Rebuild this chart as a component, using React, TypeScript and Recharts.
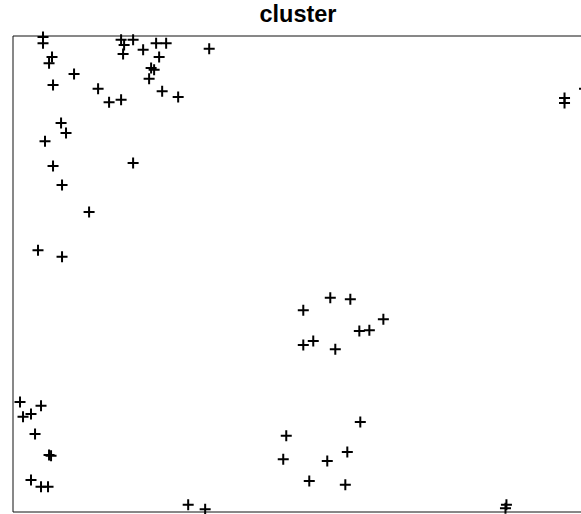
import { ScatterChart, Scatter, XAxis, YAxis, ReferenceArea } from 'recharts';

// cluster coordinates (x 0-105, y 0-100)
const xs = [
  5.27, 5.27, 6.85, 6.33, 10.72, 7.03, 14.94, 16.87, 18.98, 8.44,
  9.31, 5.62, 7.03, 21.09, 8.61, 13.36, 4.39, 8.61, 18.98, 19.51,
  21.09, 19.33, 22.85, 25.13, 26.89, 25.66, 24.25, 24.78, 23.9, 26.19,
  29.0, 34.45, 96.84, 96.84, 100.35, 55.71, 59.23, 50.97, 65.03, 60.81,
  62.57, 50.97, 52.72, 56.59, 60.98, 47.98, 58.7, 55.18, 47.45, 52.02,
  58.35, 86.64, 86.47, 1.23, 1.76, 3.16, 4.92, 3.87, 6.33, 6.68,
  3.16, 4.92, 6.15, 30.76, 33.74,
];
const ys = [
  99.8, 98.5, 95.6, 94.3, 92.0, 89.7, 88.9, 86.1, 86.6, 81.7,
  79.6, 77.9, 72.7, 73.3, 68.7, 63.0, 55.0, 53.6, 99.2, 98.1,
  99.2, 96.2, 97.1, 98.5, 98.5, 95.6, 93.3, 92.9, 91.0, 88.4,
  87.2, 97.3, 87.0, 85.9, 88.9, 45.0, 44.7, 42.4, 40.5, 38.0,
  38.2, 35.1, 35.9, 34.2, 18.9, 16.0, 12.6, 10.7, 11.1, 6.5,
  5.7, 1.5, 0.8, 23.1, 20.0, 20.6, 22.3, 16.4, 12.0, 11.8,
  6.7, 5.3, 5.3, 1.5, 0.6,
];

const points = xs.map((x, i) => ({ x, y: ys[i] }));

const Cross = (props: any) => {
  const { cx, cy } = props;
  if (cx == null || cy == null) return null;
  return (
    <path
      d={`M${cx - 5.5},${cy}H${cx + 5.5}M${cx},${cy - 5.5}V${cy + 5.5}`}
      stroke="#000"
      strokeWidth={2}
      fill="none"
    />
  );
};

export default function App() {
  return (
    <div style={{ position: 'absolute', left: 0, top: 0, width: 581, height: 514, overflow: 'hidden', background: '#fff' }}>
      <ScatterChart width={620} height={514} margin={{ top: 36, right: 9, bottom: 2, left: 13 }}>
        <XAxis type="number" dataKey="x" domain={[0, 105]} hide />
        <YAxis type="number" dataKey="y" domain={[0, 100]} hide />
        <ReferenceArea x1={0} x2={105} y1={0} y2={100} fill="none" stroke="#111" strokeWidth={1} />
        <Scatter data={points} shape={Cross} isAnimationActive={false} />
        <text
          x={298}
          y={22}
          textAnchor="middle"
          fontFamily="Liberation Sans, Arial, sans-serif"
          fontWeight="bold"
          fontSize={23.5}
          fill="#000"
        >
          cluster
        </text>
      </ScatterChart>
    </div>
  );
}
